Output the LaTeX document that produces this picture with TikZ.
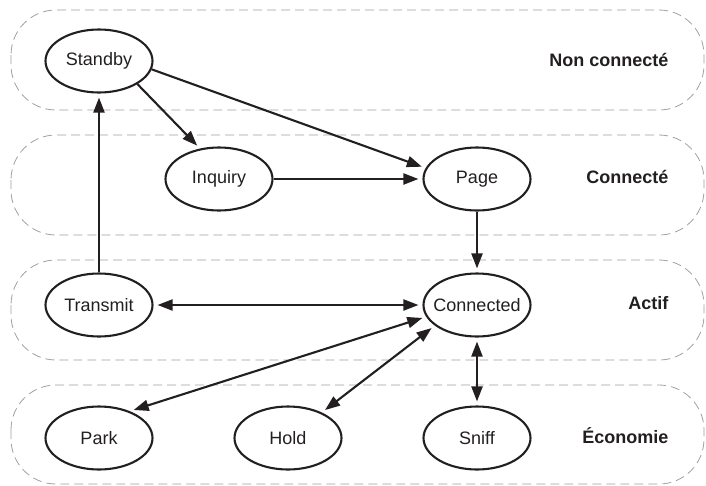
\documentclass[tikz,border=0pt]{standalone}
\usepackage{fontspec}
\setmainfont{Liberation Sans}
\usetikzlibrary{shapes.geometric,arrows.meta}
\definecolor{ink}{RGB}{35,31,32}
\definecolor{bandgray}{RGB}{160,160,160}
\newcommand{\fixw}[1]{\makebox[0pt]{#1}}
\begin{document}
\begin{tikzpicture}[x=1pt,y=-1pt,
  state/.style={ellipse,draw=ink,line width=2.1pt,minimum width=107pt,minimum height=63pt,inner sep=0pt,
    font=\fontsize{18}{20}\selectfont,text=ink},
  band/.style={draw=bandgray,line width=0.8pt,dash pattern=on 9pt off 5pt,rounded corners=45pt},
  zone/.style={anchor=east,font=\fontsize{18}{20}\selectfont\bfseries,text=ink},
  link/.style={draw=ink,line width=2.1pt,-{Triangle[length=15pt,width=11pt]},shorten >=4pt},
  dlink/.style={draw=ink,line width=2.1pt,{Triangle[length=15pt,width=11pt]}-{Triangle[length=15pt,width=11pt]},shorten >=4pt,shorten <=4pt}]
\useasboundingbox (0,0) rectangle (706,485);
% bands
\draw[band] (11,10) rectangle (704,110);
\draw[band] (11,135) rectangle (704,235);
\draw[band] (11,260) rectangle (704,360);
\draw[band] (11,385) rectangle (704,484);
% zone labels
\node[zone] (z1) at (672,60) {Non connecté};
\node[zone] (z2) at (672,177) {Connecté};
\node[zone] (z3) at (672,303) {Actif};
\node[zone] (z4) at (672,436) {Économie};
% states
\node[state] (standby) at (99,61) {\fixw{Standby}};
\node[state] (inquiry) at (219,179) {\fixw{Inquiry}};
\node[state] (page) at (477,179) {\fixw{Page}};
\node[state] (transmit) at (99,305) {\fixw{Transmit}};
\node[state] (connected) at (477,305) {\fixw{Connected}};
\node[state] (park) at (99,438) {\fixw{Park}};
\node[state] (hold) at (288,438) {\fixw{Hold}};
\node[state] (sniff) at (477,438) {\fixw{Sniff}};
% connectors
\draw[link] (standby.-31) -- (inquiry.122);
\draw[link] (standby.-9) -- (page.168);
\draw[link] (inquiry.east) -- (page.west);
\draw[link] (page.south) -- (connected.north);
\draw[link] (transmit.north) -- (standby.south);
\draw[dlink] (transmit.east) -- (connected.west);
\draw[dlink] (connected.193) -- (park.41);
\draw[dlink] (connected.206) -- (hold.37);
\draw[dlink] (connected.south) -- (sniff.north);
\end{tikzpicture}
\end{document}
